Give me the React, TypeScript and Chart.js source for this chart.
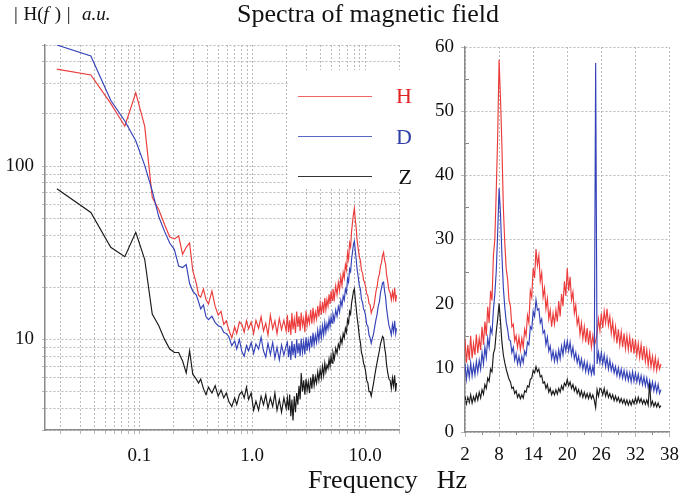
import React, { useEffect, useRef } from "react";
import { Chart, registerables } from "chart.js";
Chart.register(...registerables);

// ---------- Left panel (log-log) ----------
const leftFreq = [
  0.0186, 0.0372, 0.0558, 0.0744, 0.093, 0.1116, 0.1302, 0.1488, 0.1674, 0.186, 0.2046, 0.2232, 0.2418, 0.2604, 0.279, 0.2976,
  0.32, 0.335, 0.35, 0.37, 0.39, 0.41, 0.44, 0.47, 0.5, 0.53,
  0.56, 0.59, 0.62, 0.66, 0.7, 0.73, 0.77, 0.81, 0.85, 0.89,
  0.93, 0.98, 1.03, 1.08, 1.14, 1.2, 1.26, 1.32, 1.38, 1.45,
  1.52, 1.59, 1.66, 1.74, 1.82, 1.91, 2.0,
  2.05, 2.1, 2.15, 2.2, 2.25, 2.3, 2.36, 2.42, 2.48, 2.54,
  2.6, 2.66, 2.72, 2.79, 2.86, 2.93, 3.0, 3.07, 3.14, 3.22,
  3.3, 3.38, 3.46, 3.54, 3.63, 3.72, 3.81, 3.9, 4.0, 4.1,
  4.2, 4.3, 4.4, 4.5, 4.6, 4.7, 4.8, 4.9, 5.0, 5.1,
  5.2, 5.35, 5.5, 5.65, 5.8, 5.95, 6.1, 6.25, 6.4, 6.55,
  6.7, 6.85, 7.0, 7.15, 7.3, 7.45, 7.6, 7.75, 7.9, 8.05,
  8.2, 8.35, 8.5, 8.7, 8.9, 9.1, 9.3, 9.5, 9.7, 9.9,
  10.1, 10.35, 10.6, 10.85, 11.1, 11.35, 11.6, 11.9, 12.2, 12.5,
  12.8, 13.1, 13.4, 13.7, 14.0, 14.3, 14.6, 14.9, 15.2, 15.5,
  15.9, 16.3, 16.7, 17.1, 17.5, 17.9, 18.3, 18.7, 19.0,
];

const leftH = [
  363, 336, 230, 170, 265, 170, 66, 56, 46, 39, 38, 39.5, 31, 34, 36, 25,
  21, 18, 17.5, 19.5, 17, 16, 19, 15.5, 13.8, 14.5,
  12.2, 12.8, 11.4, 10.2, 11.8, 10.8, 12.6, 12.2, 11, 12.8,
  11.5, 12.6, 10.8, 12.9, 11.6, 13.5, 11.2, 12.4, 10.6, 13.8,
  11.5, 12.8, 10.8, 13.2, 11.4, 12.9, 11.2,
  13.8, 11.0, 12.9, 10.6, 14.2, 11.4, 13.1, 10.9, 14.5, 11.8,
  13.6, 11.2, 14.3, 12.0, 13.2, 11.0, 14.6, 12.1, 13.5, 12.4,
  14.8, 12.3, 15.2, 12.8, 14.4, 13.1, 15.6, 13.5, 16.1, 13.9,
  16.5, 14.2, 17.3, 14.8, 16.9, 15.6, 18.2, 16.0, 19.0, 16.8,
  19.6, 17.2, 20.4, 18.1, 21.3, 19.2, 23.0, 20.5, 24.4, 22.6,
  27.0, 25.2, 31.5, 29.0, 36.0, 34.2, 42.0, 47.5, 53.0, 57.0,
  49.0, 44.0, 37.5, 33.5, 30.0, 28.5, 25.0, 24.2, 22.0, 21.4,
  20.2, 18.3, 17.8, 16.1, 15.8, 14.2, 14.9, 15.3, 16.8, 18.9,
  20.2, 22.6, 23.8, 26.4, 27.8, 30.5, 31.8, 28.6, 27.4, 23.8,
  21.5, 19.2, 18.6, 16.9, 18.8, 17.2, 19.8, 16.5, 18.0,
];

const leftD = [
  500, 432, 240, 182, 140, 101, 72, 51, 42, 36, 33, 26.5, 26, 27, 21, 19,
  18, 16.5, 15, 15.8, 13.5, 13, 13.6, 12.5, 12, 11.8,
  11, 10.8, 10.4, 9.2, 9.8, 8.8, 10, 8.5, 8.0, 9.2,
  8.6, 9.6, 8.3, 9.4, 8.8, 10.3, 8.6, 7.9, 9.5, 8.2,
  9.6, 7.8, 9.0, 7.6, 9.3, 8.1, 9.2,
  9.6, 7.9, 9.2, 7.6, 9.8, 8.1, 9.4, 7.8, 10.0, 8.3,
  9.5, 8.0, 10.1, 8.4, 9.7, 8.2, 10.3, 8.6, 9.9, 8.8,
  10.5, 9.0, 10.9, 9.3, 10.6, 9.6, 11.3, 9.9, 11.6, 10.2,
  12.0, 10.6, 12.5, 11.0, 12.3, 11.5, 13.1, 11.9, 13.5, 12.4,
  14.0, 12.9, 14.8, 13.6, 15.5, 14.4, 16.8, 15.6, 17.8, 16.9,
  19.5, 18.6, 22.5, 21.4, 25.5, 24.6, 29.0, 32.0, 35.5, 37.0,
  32.5, 29.0, 25.5, 23.0, 20.5, 19.5, 17.0, 16.4, 15.0, 14.6,
  13.8, 12.2, 11.9, 10.6, 10.2, 9.5, 10.1, 10.8, 11.9, 13.0,
  14.0, 15.6, 16.4, 18.5, 19.8, 21.2, 21.4, 19.0, 17.6, 15.2,
  13.4, 12.0, 11.4, 10.6, 12.2, 11.1, 12.8, 10.8, 11.6,
];

const leftZ = [
  74, 54, 34, 30, 41.5, 29, 14, 12, 10, 8.8, 8.4, 8.4, 7.5, 6.4, 8.6, 6.3,
  5.9, 5.6, 5.9, 5.2, 4.8, 5.3, 4.9, 5.4, 4.7, 5.1,
  4.6, 4.9, 4.4, 4.1, 4.6, 4.2, 4.8, 5.0, 4.6, 5.3,
  4.5, 4.9, 3.9, 4.4, 3.9, 4.7, 4.2, 4.8, 4.0, 4.6,
  4.1, 4.9, 3.9, 4.5, 3.8, 4.6, 4.0,
  4.6, 3.9, 4.8, 3.6, 4.5, 3.4, 4.7, 3.8, 4.9, 4.2,
  5.4, 4.5, 6.4, 5.0, 5.8, 4.8, 5.9, 5.1, 5.7, 4.9,
  6.0, 5.2, 6.3, 5.4, 6.1, 5.6, 6.5, 5.8, 6.7, 6.0,
  7.0, 6.2, 7.3, 6.5, 7.1, 6.8, 7.7, 7.0, 8.0, 7.3,
  8.4, 7.7, 8.9, 8.3, 9.4, 8.9, 10.2, 9.5, 10.8, 10.2,
  11.6, 11.0, 13.0, 12.4, 14.5, 14.0, 16.2, 17.5, 19.0, 19.6,
  17.0, 15.2, 13.5, 12.0, 10.4, 9.6, 8.4, 8.0, 7.3, 7.0,
  6.6, 5.8, 5.6, 5.0, 5.0, 4.7, 5.1, 5.6, 6.2, 6.8,
  7.4, 8.0, 8.6, 9.4, 9.9, 10.4, 10.2, 9.0, 8.3, 7.2,
  6.4, 5.9, 5.8, 5.2, 6.0, 5.4, 6.2, 5.0, 5.6,
];

const leftXGrid = [0.02, 0.03, 0.04, 0.05, 0.06, 0.07, 0.08, 0.09, 0.1, 0.2, 0.3, 0.4, 0.5, 0.6, 0.7, 0.8, 0.9, 1, 2, 3, 4, 5, 6, 7, 8, 9, 10, 20];
const leftXLabelValues = [0.1, 1, 10];
const leftXLabelText = ["0.1", "1.0", "10.0"];
const leftYGrid = [3, 4, 5, 6, 7, 8, 9, 10, 20, 30, 40, 50, 60, 70, 80, 90, 100, 200, 300, 400, 500];
const leftYLabelValues = [10, 100];

// ---------- Right panel (linear) ----------
const rightFreq = [
  2, 2.25, 2.5, 2.75, 3, 3.25, 3.5, 3.75,
  4, 4.25, 4.5, 4.75, 5, 5.25, 5.5, 5.75,
  6, 6.25, 6.5, 6.75, 7, 7.25, 7.5, 7.75,
  8, 8.25, 8.5, 8.75, 9, 9.25, 9.5, 9.75,
  10, 10.25, 10.5, 10.75, 11, 11.25, 11.5, 11.75,
  12, 12.25, 12.5, 12.75, 13, 13.25, 13.5, 13.75,
  14, 14.25, 14.5, 14.75, 15, 15.25, 15.5, 15.75,
  16, 16.25, 16.5, 16.75, 17, 17.25, 17.5, 17.75,
  18, 18.25, 18.5, 18.75, 19, 19.25, 19.5, 19.75,
  20, 20.25, 20.5, 20.75, 21, 21.25, 21.5, 21.75,
  22, 22.25, 22.5, 22.75, 23, 23.25, 23.5, 23.75,
  24, 24.25, 24.5, 24.75, 25, 25.25, 25.5, 25.75,
  26, 26.25, 26.5, 26.75, 27, 27.25, 27.5, 27.75,
  28, 28.25, 28.5, 28.75, 29, 29.25, 29.5, 29.75,
  30, 30.25, 30.5, 30.75, 31, 31.25, 31.5, 31.75,
  32, 32.25, 32.5, 32.75, 33, 33.25, 33.5, 33.75,
  34, 34.25, 34.5, 34.75, 35, 35.25, 35.5, 35.75,
  36, 36.25, 36.5,
];

const rightH = [
  14.5, 10.8, 13.6, 11.2, 15.0, 11.5, 13.8, 12.0,
  15.2, 12.3, 14.6, 12.8, 16.4, 13.6, 17.2, 15.0,
  19.5, 17.0, 22.0, 20.5, 27.5, 30.0, 37.5, 46.0,
  58.0, 52.0, 44.5, 35.0, 29.5, 25.5, 23.8, 20.5,
  19.6, 16.4, 16.8, 14.2, 15.0, 13.2, 14.8, 12.8,
  14.6, 13.2, 16.0, 15.0, 18.2, 17.0, 22.0, 21.0,
  25.5, 24.0, 28.5, 26.0, 27.5, 23.5, 24.8, 21.0,
  22.4, 19.2, 20.8, 17.6, 19.0, 16.4, 18.5, 16.8,
  19.0, 17.2, 20.4, 18.0, 21.5, 19.6, 23.5, 21.2,
  25.5, 22.0, 24.2, 20.6, 21.8, 18.5, 19.8, 16.8,
  17.8, 15.2, 17.0, 14.5, 16.4, 14.0, 16.2, 13.6,
  15.8, 13.2, 15.0, 13.4, 14.2, 15.4, 17.6, 15.8,
  18.5, 16.2, 18.8, 17.0, 19.2, 16.6, 18.0, 15.4,
  17.2, 14.6, 16.4, 13.8, 16.0, 13.6, 15.6, 13.2,
  15.4, 13.0, 15.0, 12.8, 14.8, 12.4, 14.6, 12.2,
  14.4, 12.0, 13.8, 11.6, 13.6, 11.2, 13.4, 11.0,
  12.8, 10.4, 12.4, 10.2, 11.8, 9.8, 11.6, 9.6,
  11.2, 9.8, 10.6,
];

const rightD = [
  10.6, 8.2, 10.2, 8.5, 10.8, 8.7, 10.4, 8.9,
  11.0, 9.3, 11.2, 9.8, 12.4, 10.6, 13.2, 11.6,
  14.6, 13.2, 16.2, 15.4, 19.0, 21.5, 25.0, 31.0,
  38.0, 34.0, 27.5, 22.5, 19.5, 17.2, 16.0, 14.4,
  14.2, 12.4, 13.2, 11.2, 12.2, 10.6, 11.8, 10.4,
  11.8, 10.8, 12.6, 12.0, 14.0, 13.6, 16.4, 16.0,
  18.8, 18.0, 20.6, 19.0, 19.2, 17.0, 17.6, 15.4,
  15.8, 13.6, 14.8, 12.6, 13.4, 11.4, 12.6, 11.0,
  12.4, 11.0, 12.8, 11.4, 13.4, 12.0, 14.0, 12.6,
  14.2, 12.6, 14.0, 12.0, 13.2, 11.4, 12.4, 10.8,
  11.8, 10.2, 11.4, 9.8, 11.0, 9.4, 10.8, 9.2,
  10.4, 9.0, 10.2, 8.8, 57.5, 10.6, 12.4, 10.8,
  12.4, 10.6, 12.0, 10.2, 11.6, 9.8, 11.2, 9.6,
  10.6, 9.2, 10.2, 8.8, 10.0, 8.6, 9.8, 8.4,
  9.6, 8.2, 9.4, 8.0, 9.2, 7.8, 9.4, 7.9,
  9.2, 7.8, 9.0, 7.6, 8.8, 7.4, 8.6, 7.2,
  8.4, 6.9, 8.0, 6.6, 7.8, 6.4, 7.6, 6.2,
  7.4, 6.0, 6.6,
];

const rightZ = [
  5.6, 4.4, 5.4, 4.6, 5.8, 4.5, 5.5, 4.8,
  5.9, 5.0, 6.2, 5.3, 6.6, 5.9, 7.4, 6.8,
  8.4, 7.9, 9.8, 9.4, 12.2, 13.0, 15.6, 17.6,
  20.0, 17.2, 14.0, 12.0, 10.8, 9.8, 9.0, 8.2,
  7.8, 6.8, 7.0, 6.0, 6.4, 5.4, 5.9, 5.2,
  5.8, 5.3, 6.4, 6.2, 7.2, 7.0, 8.2, 8.4,
  9.6, 9.2, 10.2, 9.4, 9.8, 8.6, 8.8, 7.6,
  7.8, 6.8, 7.4, 6.2, 6.8, 5.8, 6.4, 5.8,
  6.6, 5.9, 6.8, 6.2, 7.2, 6.6, 7.6, 7.2,
  8.2, 7.2, 7.8, 6.8, 7.4, 6.4, 7.0, 6.0,
  6.6, 5.6, 6.4, 5.4, 6.2, 5.3, 6.0, 5.2,
  6.0, 5.2, 5.8, 5.0, 3.8, 6.6, 5.6, 6.8,
  6.6, 5.8, 6.8, 5.6, 6.4, 5.4, 6.0, 5.2,
  5.8, 4.9, 5.6, 4.8, 5.4, 4.6, 5.2, 4.5,
  5.1, 4.3, 5.0, 4.2, 4.9, 4.2, 5.0, 4.4,
  5.3, 4.5, 5.4, 4.6, 5.2, 4.4, 5.0, 4.3,
  5.0, 4.2, 7.6, 4.1, 4.8, 4.0, 4.6, 3.9,
  4.5, 3.8, 4.1,
];

const rightXTicks = [2, 8, 14, 20, 26, 32, 38];
const rightXMinor = [5, 11, 17, 23, 29, 35];
const rightYMinor = [5, 15, 25, 35, 45, 55];

const seriesNames = ["H", "D", "Z"];

// ---------- styles ----------
const RED = "#ec3b3b";
const BLUE = "#3442b8";
const BLACK = "#1a1a1a";
const GRID = "#b8b8b8";
const AXIS = "#8a8a8a";
const SERIF = "'Liberation Serif', 'DejaVu Serif', serif";
const tickFont = { family: SERIF, size: 19 };

function toXY(xs: number[], ys: number[]) {
  return xs.map((x, i) => ({ x, y: ys[i] }));
}

function datasets(xs: number[], h: number[], d: number[], z: number[]) {
  const base = { pointRadius: 0, borderWidth: 1.15, tension: 0, fill: false };
  return [
    { ...base, label: seriesNames[0], data: toXY(xs, h), borderColor: RED, order: 2 },
    { ...base, label: seriesNames[1], data: toXY(xs, d), borderColor: BLUE, order: 1 },
    { ...base, label: seriesNames[2], data: toXY(xs, z), borderColor: BLACK, order: 0 },
  ];
}

const minorTicksPlugin = {
  id: "minorTicks",
  afterDraw(chart: any) {
    const { ctx, chartArea, scales } = chart;
    ctx.save();
    ctx.strokeStyle = AXIS;
    ctx.lineWidth = 1;
    ctx.beginPath();
    rightXMinor.forEach((v) => {
      const x = Math.round(scales.x.getPixelForValue(v)) + 0.5;
      ctx.moveTo(x, chartArea.bottom);
      ctx.lineTo(x, chartArea.bottom + 3);
    });
    rightYMinor.forEach((v) => {
      const y = Math.round(scales.y.getPixelForValue(v)) + 0.5;
      ctx.moveTo(chartArea.left, y);
      ctx.lineTo(chartArea.left + 4, y);
    });
    ctx.stroke();
    ctx.restore();
  },
};

export default function App() {
  const leftRef = useRef<HTMLCanvasElement | null>(null);
  const rightRef = useRef<HTMLCanvasElement | null>(null);

  useEffect(() => {
    const left = new Chart(leftRef.current as HTMLCanvasElement, {
      type: "line",
      data: { datasets: datasets(leftFreq, leftH, leftD, leftZ) as any },
      options: {
        animation: false,
        responsive: false,
        devicePixelRatio: 1,
        layout: { padding: { top: 45, right: 8, left: 0, bottom: 0 } },
        plugins: { legend: { display: false }, tooltip: { enabled: false } },
        scales: {
          x: {
            type: "logarithmic",
            min: 0.0146,
            max: 20,
            afterBuildTicks: (s: any) => {
              s.ticks = leftXGrid.map((v) => ({ value: v }));
            },
            afterFit: (s: any) => {
              s.height = 71;
            },
            grid: { color: GRID, lineWidth: 1, drawTicks: true, tickLength: 4 },
            border: { display: true, color: AXIS, width: 1.5, dash: [2, 2] },
            ticks: {
              autoSkip: false,
              maxRotation: 0,
              padding: 11,
              color: "#111",
              font: tickFont,
              callback: (v: any) => {
                const i = leftXLabelValues.indexOf(Number(v));
                return i >= 0 ? leftXLabelText[i] : "";
              },
            },
          },
          y: {
            type: "logarithmic",
            min: 3,
            max: 500,
            afterBuildTicks: (s: any) => {
              s.ticks = leftYGrid.map((v) => ({ value: v }));
            },
            afterFit: (s: any) => {
              s.width = 45;
            },
            grid: { color: GRID, lineWidth: 1, drawTicks: true, tickLength: 3 },
            border: { display: true, color: AXIS, width: 1.5, dash: [2, 2] },
            ticks: {
              autoSkip: false,
              padding: 8,
              color: "#111",
              font: tickFont,
              callback: (v: any) => (leftYLabelValues.indexOf(Number(v)) >= 0 ? String(v) : ""),
            },
          },
        },
      } as any,
    });

    const right = new Chart(rightRef.current as HTMLCanvasElement, {
      type: "line",
      data: { datasets: datasets(rightFreq, rightH, rightD, rightZ) as any },
      options: {
        animation: false,
        responsive: false,
        devicePixelRatio: 1,
        layout: { padding: { top: 47, right: 10, left: 0, bottom: 0 } },
        plugins: { legend: { display: false }, tooltip: { enabled: false } },
        scales: {
          x: {
            type: "linear",
            min: 2,
            max: 38,
            afterBuildTicks: (s: any) => {
              s.ticks = rightXTicks.map((v) => ({ value: v }));
            },
            afterFit: (s: any) => {
              s.height = 69;
            },
            grid: { color: GRID, lineWidth: 1, drawTicks: true, tickLength: 5 },
            border: { display: true, color: AXIS, width: 1.5, dash: [2, 2] },
            ticks: { autoSkip: false, maxRotation: 0, padding: 7, color: "#111", font: tickFont },
          },
          y: {
            type: "linear",
            min: 0,
            max: 60,
            ticks: { stepSize: 10, padding: 7, color: "#111", font: tickFont },
            afterFit: (s: any) => {
              s.width = 55;
            },
            grid: { color: GRID, lineWidth: 1, drawTicks: true, tickLength: 4 },
            border: { display: true, color: AXIS, width: 1.5, dash: [2, 2] },
          },
        },
      } as any,
      plugins: [minorTicksPlugin as any],
    });

    return () => {
      left.destroy();
      right.destroy();
    };
  }, []);

  const text: React.CSSProperties = {
    position: "absolute",
    fontFamily: SERIF,
    whiteSpace: "nowrap",
    color: "#111",
  };

  return (
    <div
      style={{
        position: "absolute",
        left: 0,
        top: 0,
        width: 686,
        height: 501,
        overflow: "hidden",
        background: "#fff",
      }}
    >
      <canvas
        ref={leftRef}
        width={410}
        height={501}
        style={{ position: "absolute", left: 0, top: 0, width: 410, height: 501 }}
      />
      <canvas
        ref={rightRef}
        width={276}
        height={501}
        style={{ position: "absolute", left: 410, top: 0, width: 276, height: 501 }}
      />

      {/* y-axis unit label */}
      <div style={{ ...text, left: 14, top: 4, fontSize: 19, lineHeight: "19px", wordSpacing: 1 }}>
        | H(<i>f</i> ) |&nbsp;&nbsp;<i>a.u.</i>
      </div>

      {/* title */}
      <div style={{ ...text, left: 237, top: 1, fontSize: 26, lineHeight: "26px" }}>
        Spectra of magnetic field
      </div>

      {/* x-axis label */}
      <div style={{ ...text, left: 308, top: 467, fontSize: 26, lineHeight: "26px" }}>
        Frequency<span style={{ paddingLeft: 19 }}>Hz</span>
      </div>

      {/* legend */}
      <div
        style={{
          position: "absolute",
          left: 288,
          top: 70,
          width: 130,
          height: 118,
          background: "#fff",
        }}
      >
        <div style={{ position: "absolute", left: 10, top: 26, width: 74, borderTop: "1.5px solid #f06464" }} />
        <div style={{ position: "absolute", left: 10, top: 66, width: 74, borderTop: "1.5px solid #5a66c4" }} />
        <div style={{ position: "absolute", left: 10, top: 106, width: 74, borderTop: "1.5px solid #333" }} />
        <div style={{ ...text, left: 84, width: 40, textAlign: "right", top: 15, fontSize: 22, lineHeight: "22px", color: "#e02424" }}>
          {seriesNames[0]}
        </div>
        <div style={{ ...text, left: 84, width: 40, textAlign: "right", top: 56, fontSize: 22, lineHeight: "22px", color: "#2f3ea8" }}>
          {seriesNames[1]}
        </div>
        <div style={{ ...text, left: 84, width: 40, textAlign: "right", top: 96, fontSize: 22, lineHeight: "22px", color: "#111" }}>
          {seriesNames[2]}
        </div>
      </div>
    </div>
  );
}
